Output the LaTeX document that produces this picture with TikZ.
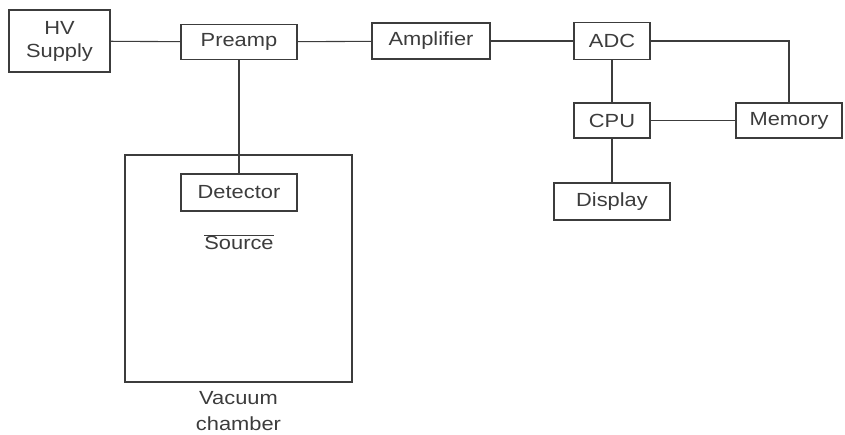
\documentclass[tikz,border=0pt]{standalone}
\usepackage{fontspec}
\setmainfont{Liberation Sans}[FakeStretch=1.15]
\usepackage{tikz}
\usetikzlibrary{positioning}
\definecolor{inkgray}{RGB}{60,60,60}

\begin{document}
\begin{tikzpicture}[
  x=1pt, y=-1pt,
  every node/.style={font=\fontsize{19}{23}\selectfont, text=inkgray},
  unit/.style={draw=inkgray, line width=1.1pt, inner sep=0pt, align=center},
  link/.style={draw=inkgray, line width=1.1pt}
]
\useasboundingbox (0,0) rectangle (845,434);

\node[unit, minimum width=101pt, minimum height=62pt] (hv) at (59.5,41) {HV\\Supply};
\node[unit, minimum width=116pt, minimum height=35pt] (pre) at (239,42) {Preamp};
\node[unit, minimum width=118pt, minimum height=36pt] (amp) at (431,41) {Amplifier};
\node[unit, minimum width=76pt, minimum height=37pt] (adc) at (612,41) {ADC};
\node[unit, minimum width=76pt, minimum height=35pt] (cpu) at (612,120.5) {CPU};
\node[unit, minimum width=106pt, minimum height=35pt] (mem) at (789,120.5) {Memory};
\node[unit, minimum width=116pt, minimum height=37pt] (disp) at (612,201.5) {Display};

% vacuum chamber with detector and source
\node[draw=inkgray, line width=1.8pt, minimum width=227pt, minimum height=227pt] (ch) at (238.5,268.5) {};
\node[unit, minimum width=116pt, minimum height=37pt] (det) at (239,192.5) {Detector};
\node (src) at (239,242) {$\overline{\mbox{Source}}$};
\node[align=center, below=5pt of ch] (chlbl) {Vacuum\\[3pt]chamber};

\foreach \a/\b in {hv/pre, pre/amp, amp/adc, adc/cpu, cpu/mem, cpu/disp, pre/det}
  \draw[link] (\a) -- (\b);
\draw[link] (adc) -| (mem);
\end{tikzpicture}
\end{document}
